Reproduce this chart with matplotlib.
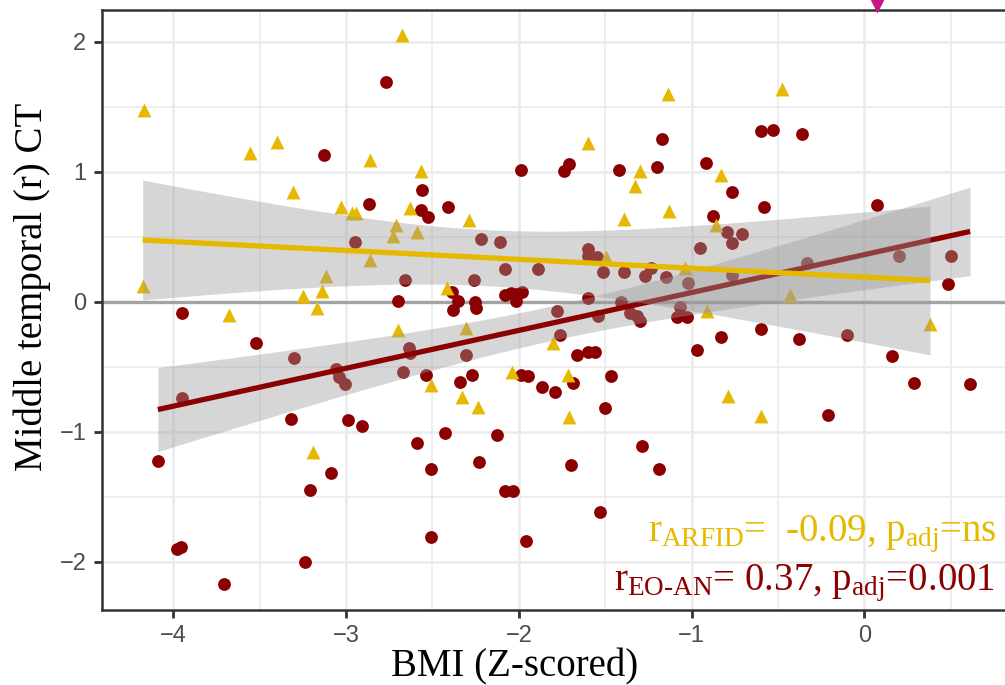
import numpy as np
import matplotlib.pyplot as plt
from matplotlib.ticker import MultipleLocator
import matplotlib.transforms as mtransforms

plt.rcParams['mathtext.fontset'] = 'custom'
plt.rcParams['mathtext.rm'] = 'Liberation Serif'
plt.rcParams['mathtext.it'] = 'Liberation Serif'

# EO-AN group (dark red dots): BMI z-score vs middle temporal CT
an_bmi = [-2.769, -3.128, -1.989, -2.560, -2.869, -2.568, -2.528, -2.410, -2.948, -2.219,
          -2.109, -2.080, -1.891, -2.659, -2.259, -2.697, -2.388, -2.350, -2.379, -2.254,
          -2.248, -2.080, -2.047, -2.012, -1.983, -2.018, -3.948,
          -1.738, -1.707, -1.420, -1.198, -1.169, -0.918, -0.598, -0.527, -0.359, -0.768,
          -0.878, -0.579, 0.072, -0.797, -0.708, -0.768, -0.951, -1.598, -1.598, -1.549,
          -1.511, -1.391, -1.269, -1.236, -1.148, -1.019, -0.768, -0.330, 0.201, 0.502,
          0.483, -1.601, -1.777, -1.410, -1.067, -1.086, -1.028, -1.356, -1.318, -1.298,
          -3.520, -3.300, -3.948, -4.089, -3.321, -3.058, -3.039, -3.006, -2.990, -2.908,
          -2.637, -2.630, -2.669, -2.539, -2.307, -2.340, -2.269, -1.989, -1.945, -1.867,
          -2.427, -2.589, -2.510, -2.128, -2.229, -2.080, -2.035, -3.089, -3.211, -3.981,
          -3.956, -3.239, -3.708, -2.510, -1.960,
          -0.970, -0.830, -0.598, -0.378, -0.098, 0.162, 0.289, 0.612, -0.208, -1.661,
          -1.598, -1.559, -1.761, -1.790, -1.688, -1.468, -1.499, -1.289, -1.700, -1.188,
          -1.530, -1.540]
an_ct = [1.688, 1.131, 1.015, 0.859, 0.751, 0.705, 0.654, 0.726, 0.457, 0.482,
         0.462, 0.249, 0.249, 0.165, 0.169, 0.008, 0.077, 0.005, -0.064, 0.000,
         -0.046, 0.049, 0.069, 0.059, 0.077, 0.005, -0.089,
         1.005, 1.059, 1.013, 1.036, 1.249, 1.067, 1.313, 1.321, 1.292, 0.846,
         0.659, 0.726, 0.741, 0.538, 0.523, 0.449, 0.410, 0.403, 0.354, 0.346,
         0.226, 0.226, 0.198, 0.257, 0.192, 0.141, 0.205, 0.300, 0.354, 0.354,
         0.134, 0.026, -0.069, 0.000, -0.038, -0.115, -0.115, -0.089, -0.110, -0.146,
         -0.320, -0.431, -0.738, -1.225, -0.902, -0.520, -0.577, -0.636, -0.910, -0.956,
         -0.354, -0.397, -0.538, -0.566, -0.410, -0.615, -0.564, -0.564, -0.569, -0.659,
         -1.013, -1.090, -1.290, -1.026, -1.231, -1.454, -1.454, -1.315, -1.446, -1.905,
         -1.887, -2.002, -2.169, -1.812, -1.843,
         -0.372, -0.269, -0.210, -0.290, -0.256, -0.415, -0.628, -0.633, -0.872, -0.410,
         -0.385, -0.385, -0.256, -0.697, -0.628, -0.569, -0.815, -1.110, -1.256, -1.290,
         -1.615, -0.110]

# ARFID group (gold triangles)
arfid_bmi = [-2.678, -4.168, -3.558, -3.398, -3.309, -2.860, -2.568, -3.027, -2.967, -2.942,
             -2.630, -2.711, -2.726, -2.591, -2.290, -2.861, -3.118, -3.137, -3.247, -3.168,
             -3.678, -4.177, -2.417,
             -1.138, -0.478, -1.598, -1.298, -1.327, -0.830, -1.129, -1.389, -0.858, -1.495,
             -1.038, -0.430, -0.912,
             -2.697, -2.307, -2.508, -2.331, -2.238, -2.041, -1.800, -3.189,
             -1.717, -1.708, -0.787, -0.598, 0.380]
arfid_ct = [2.052, 1.475, 1.146, 1.226, 0.842, 1.090, 1.008, 0.731, 0.680, 0.685,
            0.718, 0.592, 0.508, 0.536, 0.628, 0.321, 0.200, 0.085, 0.044, -0.051,
            -0.105, 0.123, 0.103,
            1.598, 1.636, 1.218, 1.008, 0.892, 0.975, 0.700, 0.638, 0.590, 0.341,
            0.257, 0.052, -0.069,
            -0.218, -0.205, -0.643, -0.731, -0.813, -0.543, -0.315, -1.154,
            -0.564, -0.889, -0.725, -0.877, -0.172]

# 97.5% t quantiles for the 95% band (df = n - 2)
t_an = 1.98
t_arfid = 2.01

marker_x = 0.072  # magenta marker above the panel

red = '#8B0000'
gold = '#E7B800'


def lm_band(x, y, tq, n_grid=100):
    x = np.asarray(x)
    y = np.asarray(y)
    slope, icpt = np.polyfit(x, y, 1)
    xs = np.linspace(x.min(), x.max(), n_grid)
    fit = icpt + slope * xs
    resid = y - (icpt + slope * x)
    s = np.sqrt(np.sum(resid ** 2) / (len(x) - 2))
    se = s * np.sqrt(1 / len(x) + (xs - x.mean()) ** 2 / np.sum((x - x.mean()) ** 2))
    return xs, fit, fit - tq * se, fit + tq * se


fig = plt.figure(figsize=(10.05, 6.85), dpi=100)
ax = fig.add_axes([101.7 / 1005, 75 / 685, 1.0 - 101.7 / 1005, 600 / 685])
ax.set_xlim(-4.414, 0.814)
ax.set_ylim(-2.372, 2.244)

ax.xaxis.set_major_locator(MultipleLocator(1))
ax.xaxis.set_minor_locator(MultipleLocator(0.5))
ax.yaxis.set_major_locator(MultipleLocator(1))
ax.yaxis.set_minor_locator(MultipleLocator(0.5))
ax.grid(which='major', color='#EBEBEB', lw=1.8)
ax.grid(which='minor', color='#EBEBEB', lw=1.2)
ax.set_axisbelow(True)

ax.axhline(0, color='#A3A3A3', lw=2.4, zorder=2)

ax.scatter(an_bmi, an_ct, s=85, c=red, marker='o', linewidths=0, zorder=3)
ax.scatter(arfid_bmi, arfid_ct, s=100, c=gold, marker='^', linewidths=0, zorder=3)

xs, fit, lo, hi = lm_band(an_bmi, an_ct, t_an)
ax.fill_between(xs, lo, hi, color='#999999', alpha=0.4, lw=0, zorder=4)
ax.plot(xs, fit, color=red, lw=3.8, zorder=5, solid_capstyle='butt')

xs, fit, lo, hi = lm_band(arfid_bmi, arfid_ct, t_arfid)
ax.fill_between(xs, lo, hi, color='#999999', alpha=0.4, lw=0, zorder=6)
ax.plot(xs, fit, color=gold, lw=3.8, zorder=7, solid_capstyle='butt')

# magenta marker sitting on the top border
trans = mtransforms.blended_transform_factory(ax.transData, ax.transAxes)
ax.plot([marker_x], [1.009], marker='v', ms=11, color='#C71585', mec='none',
        transform=trans, clip_on=False, zorder=8)

for side in ['left', 'bottom', 'top']:
    ax.spines[side].set_color('#333333')
    ax.spines[side].set_linewidth(1.8)
ax.spines['right'].set_visible(False)

ax.tick_params(which='major', length=6, width=2, color='#333333',
               labelsize=17, labelcolor='#4D4D4D', pad=5)
ax.tick_params(which='minor', length=0)
for lab in ax.get_xticklabels() + ax.get_yticklabels():
    lab.set_family('Liberation Sans')

fig.text(515 / 1005, 1 - 676 / 685, 'BMI (Z-scored)', fontsize=28,
         family='Liberation Serif', ha='center', va='baseline')
fig.text(32 / 1005, 1 - 287 / 685, 'Middle temporal (r) CT', fontsize=28,
         family='Liberation Serif', ha='center', va='center', rotation=90)

fig.text(997 / 1005, 1 - 541 / 685, r'r$_{\mathrm{ARFID}}$=  -0.09, p$_{\mathrm{adj}}$=ns',
         fontsize=28, family='Liberation Serif', color=gold, ha='right', va='baseline')
fig.text(995 / 1005, 1 - 590 / 685, r'r$_{\text{EO-AN}}$= 0.37, p$_{\mathrm{adj}}$=0.001',
         fontsize=28, family='Liberation Serif', color=red, ha='right', va='baseline')

fig.savefig('out.png', dpi=100)
